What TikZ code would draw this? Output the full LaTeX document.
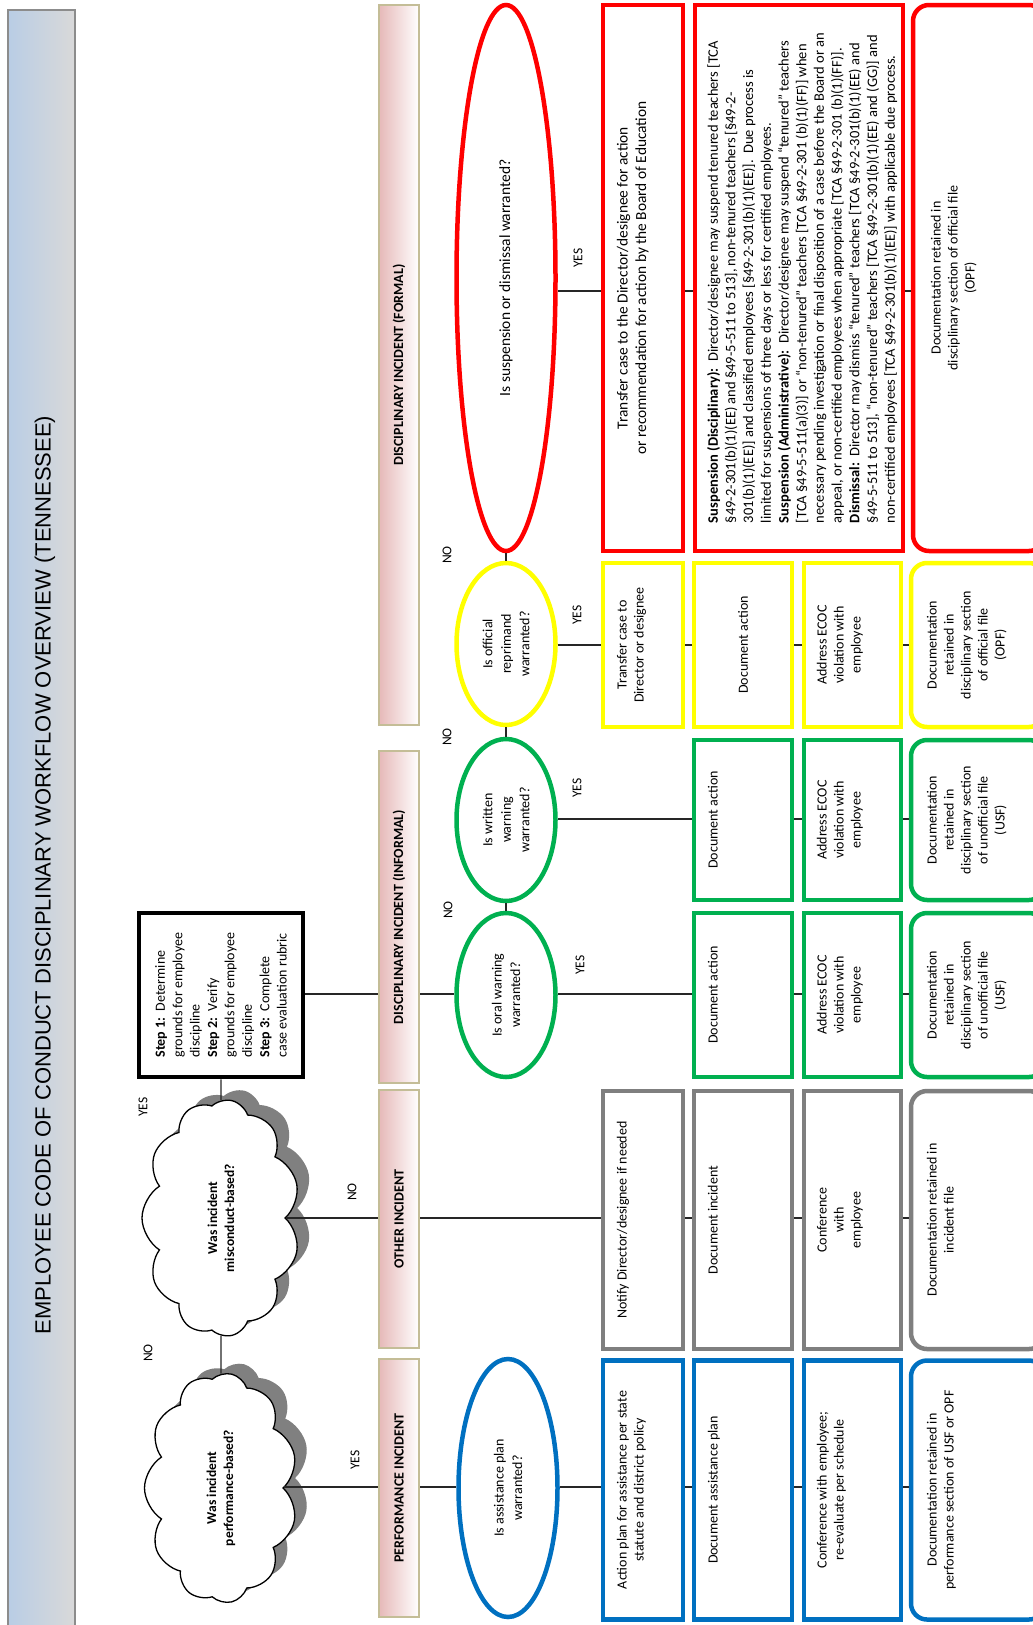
\documentclass[tikz,border=0pt]{standalone}
\usepackage{fontspec}
\setmainfont{Carlito}
\newfontfamily\titlefont{Liberation Sans}
\usetikzlibrary{shapes.geometric,shapes.symbols,shadows}

\definecolor{redline}{HTML}{FF0000}
\definecolor{yellowline}{HTML}{FFFF00}
\definecolor{greenline}{HTML}{00B050}
\definecolor{blueline}{HTML}{0070C0}
\definecolor{grayline}{HTML}{7F7F7F}
\definecolor{shadowgray}{HTML}{808080}
\definecolor{headpink}{HTML}{E6B9B8}
\definecolor{headrim}{HTML}{C4BD97}
\definecolor{barblue}{HTML}{B9CDE5}
\definecolor{bargray}{HTML}{D9D9D9}
\definecolor{barrim}{HTML}{8C8C8C}

\newcommand{\fsz}[2]{\fontsize{#1}{#2}\selectfont}
% text pinned to the top of a box (the left side once rotated)
\newcommand{\pintop}[3]{\parbox[c][#1][t]{#2}{\centering #3}}

\begin{document}
\begin{tikzpicture}[x=1pt,y=-1pt,
  link/.style={line width=1.3pt,black!85},
  header/.style={rotate=90,draw=headrim,line width=2pt,left color=headpink,right color=white,
    minimum height=40pt,inner sep=0pt,font=\fsz{14}{17}\bfseries},
  thought/.style={cloud,cloud puffs=11,cloud puff arc=115,cloud ignores aspect,rotate=90,
    draw,fill=white,line width=1.3pt,inner sep=0pt,align=center,font=\fsz{13.5}{17}\bfseries,
    drop shadow={shadow xshift=12pt,shadow yshift=10pt,fill=shadowgray,opacity=1}},
  stepbox/.style={rotate=90,draw,line width=4.5pt,minimum width=164pt,minimum height=164pt,
    inner sep=0pt,align=left,font=\fsz{14}{17.4}},
  question/.style={ellipse,rotate=90,line width=4.5pt,minimum height=99pt,inner sep=0pt,
    align=center,font=\fsz{14}{18.5}},
  actbox/.style={rectangle,rotate=90,line width=4.5pt,inner sep=0pt,font=\fsz{14}{17}},
  filebox/.style={actbox,rounded corners=16pt},
  answer/.style={rotate=90,inner sep=1pt,font=\fsz{13.5}{16}}]

  \useasboundingbox (0,0) rectangle (1033,1625);
  \clip (0,0) rectangle (1033,1625);

  % title bar
  \draw[barrim,line width=2pt,left color=barblue,right color=bargray] (8,10) rectangle (75,1640);
  \node[rotate=90,font=\titlefont\fsz{22}{26}] (title) at (45,875)
    {EMPLOYEE CODE OF CONDUCT DISCIPLINARY WORKFLOW OVERVIEW (TENNESSEE)};

  % lanes
  \node[header,minimum width=720pt] (hFormal) at (399,365) {DISCIPLINARY INCIDENT (FORMAL)};
  \node[header,minimum width=332pt] (hInformal) at (399,917) {DISCIPLINARY INCIDENT (INFORMAL)};
  \node[header,minimum width=258pt] (hOther) at (399,1219) {OTHER INCIDENT};
  \node[header,minimum width=258pt] (hPerf) at (399,1488) {PERFORMANCE INCIDENT};

  % first questions
  \node[thought,minimum width=230pt,minimum height=153pt] (cloudPerf) at (221,1488)
    {Was incident\\performance-based?};
  \node[thought,minimum width=237pt,minimum height=158pt] (cloudMisc) at (221,1218)
    {Was incident\\misconduct-based?};
  \node[stepbox] (sSteps) at (221,995)
    {\textbf{Step 1:}\ \ Determine\\grounds for employee\\discipline\\
     \textbf{Step 2:}\ \ Verify\\grounds for employee\\discipline\\
     \textbf{Step 3:}\ \ Complete\\case evaluation rubric};

  % decisions
  \node[question,draw=redline,minimum width=546pt,font=\fsz{15.5}{19}] (qSusp) at (506,278)
    {Is suspension or dismissal warranted?};
  \node[question,draw=yellowline,minimum width=162pt] (qRepr) at (506,644)
    {Is official\\reprimand\\warranted?};
  \node[question,draw=greenline,minimum width=162pt] (qWrit) at (506,820)
    {Is written\\warning\\warranted?};
  \node[question,draw=greenline,minimum width=164pt] (qOral) at (506,995)
    {Is oral warning\\warranted?};
  \node[question,draw=blueline,minimum width=258pt] (qAssist) at (508,1488)
    {Is assistance plan\\warranted?};

  % formal: suspension or dismissal
  \node[actbox,draw=redline,minimum width=546pt,minimum height=80pt,font=\fsz{15.4}{18.5}] (aSusp) at (643,278)
    {\pintop{52pt}{530pt}{Transfer case to the Director/designee for action\\or recommendation for action by the Board of Education}};
  \node[actbox,draw=redline,minimum width=546pt,minimum height=208pt,font=\fsz{14.5}{17.7}] (bSusp) at (799,278)
    {\parbox[c][184pt][t]{490pt}{\raggedright
      \textbf{Suspension (Disciplinary):}\ \ Director/designee may suspend tenured teachers [TCA\\{}%
      §49-2-301(b)(1)(EE) and §49-5-511 to 513], non-tenured teachers [§49-2-\\{}%
      301(b)(1)(EE)] and classified employees [§49-2-301(b)(1)(EE)].\ \ Due process is\\{}%
      limited for suspensions of three days or less for certified employees.\\{}%
      \textbf{Suspension (Administrative):}\ \ Director/designee may suspend “tenured” teachers\\{}%
      [TCA §49-5-511(a)(3)] or “non-tenured” teachers [TCA §49-2-301 (b)(1)(FF)] when\\{}%
      necessary pending investigation or final disposition of a case before the Board or an\\{}%
      appeal, or non-certified employees when appropriate [TCA §49-2-301 (b)(1)(FF)].\\{}%
      \textbf{Dismissal:}\ \ Director may dismiss “tenured” teachers [TCA §49-2-301(b)(1)(EE) and\\{}%
      §49-5-511 to 513], “non-tenured” teachers [TCA §49-2-301(b)(1)(EE) and (GG)] and\\{}%
      non-certified employees [TCA §49-2-301(b)(1)(EE)] with applicable due process.}};
  \node[filebox,draw=redline,minimum width=546pt,minimum height=132pt] (dSusp) at (979,278)
    {\pintop{96pt}{520pt}{Documentation retained in\\disciplinary section of official file\\(OPF)}};

  % formal: official reprimand
  \node[actbox,draw=yellowline,minimum width=164pt,minimum height=80pt] (aRepr) at (643,645)
    {\pintop{52pt}{150pt}{Transfer case to\\Director or designee}};
  \node[actbox,draw=yellowline,minimum width=164pt,minimum height=98pt] (bRepr) at (743,645)
    {Document action};
  \node[actbox,draw=yellowline,minimum width=164pt,minimum height=97pt] (cRepr) at (852.5,645)
    {\pintop{71pt}{150pt}{Address ECOC\\violation with\\employee}};
  \node[filebox,draw=yellowline,minimum width=164pt,minimum height=134pt] (dRepr) at (978,645)
    {\pintop{102pt}{150pt}{Documentation\\retained in\\disciplinary section\\of official file\\(OPF)}};

  % informal: written warning
  \node[actbox,draw=greenline,minimum width=160pt,minimum height=98pt] (bWrit) at (743,820)
    {\pintop{70pt}{146pt}{Document action}};
  \node[actbox,draw=greenline,minimum width=160pt,minimum height=97pt] (cWrit) at (852.5,820)
    {\pintop{71pt}{146pt}{Address ECOC\\violation with\\employee}};
  \node[filebox,draw=greenline,minimum width=160pt,minimum height=134pt] (dWrit) at (978,820)
    {\pintop{102pt}{146pt}{Documentation\\retained in\\disciplinary section\\of unofficial file\\(USF)}};

  % informal: oral warning
  \node[actbox,draw=greenline,minimum width=164pt,minimum height=98pt] (bOral) at (743,995)
    {\pintop{70pt}{150pt}{Document action}};
  \node[actbox,draw=greenline,minimum width=164pt,minimum height=97pt] (cOral) at (852.5,995)
    {\pintop{71pt}{150pt}{Address ECOC\\violation with\\employee}};
  \node[filebox,draw=greenline,minimum width=164pt,minimum height=134pt] (dOral) at (978,995)
    {\pintop{102pt}{150pt}{Documentation\\retained in\\disciplinary section\\of unofficial file\\(USF)}};

  % other incident
  \node[actbox,draw=grayline,minimum width=258pt,minimum height=80pt] (aOther) at (643,1220)
    {\pintop{52pt}{240pt}{Notify Director/designee if needed}};
  \node[actbox,draw=grayline,minimum width=258pt,minimum height=98pt] (bOther) at (743,1220)
    {\pintop{70pt}{240pt}{Document incident}};
  \node[actbox,draw=grayline,minimum width=258pt,minimum height=97pt] (cOther) at (852.5,1220)
    {\pintop{71pt}{240pt}{Conference\\with\\employee}};
  \node[filebox,draw=grayline,minimum width=258pt,minimum height=134pt] (dOther) at (978,1220)
    {\pintop{102pt}{240pt}{Documentation retained in\\incident file}};

  % performance incident
  \node[actbox,draw=blueline,minimum width=259pt,minimum height=80pt] (aPerf) at (643,1490)
    {\pintop{52pt}{240pt}{Action plan for assistance per state\\statute and district policy}};
  \node[actbox,draw=blueline,minimum width=259pt,minimum height=98pt] (bPerf) at (743,1490)
    {\pintop{70pt}{240pt}{Document assistance plan}};
  \node[actbox,draw=blueline,minimum width=259pt,minimum height=97pt] (cPerf) at (852.5,1490)
    {\pintop{71pt}{240pt}{Conference with employee;\\re-evaluate per schedule}};
  \node[filebox,draw=blueline,minimum width=259pt,minimum height=134pt] (dPerf) at (978,1490)
    {\pintop{102pt}{240pt}{Documentation retained in\\performance section of USF or OPF}};

  % row heights of the connectors
  \coordinate (rowSusp) at (0,291);
  \coordinate (rowRepr) at (0,645);
  \coordinate (rowWrit) at (0,819);
  \coordinate (rowOral) at (0,994);
  \coordinate (rowOther) at (0,1218);
  \coordinate (rowPerf) at (0,1487);

  \foreach \src/\dst/\lane in {qSusp/aSusp/rowSusp,aSusp/bSusp/rowSusp,bSusp/dSusp/rowSusp,
      qRepr/aRepr/rowRepr,aRepr/bRepr/rowRepr,bRepr/cRepr/rowRepr,cRepr/dRepr/rowRepr,
      qWrit/bWrit/rowWrit,bWrit/cWrit/rowWrit,cWrit/dWrit/rowWrit,
      sSteps/hInformal/rowOral,hInformal/qOral/rowOral,qOral/bOral/rowOral,bOral/cOral/rowOral,cOral/dOral/rowOral,
      cloudMisc/hOther/rowOther,hOther/aOther/rowOther,aOther/bOther/rowOther,bOther/cOther/rowOther,cOther/dOther/rowOther,
      cloudPerf/hPerf/rowPerf,hPerf/qAssist/rowPerf,qAssist/aPerf/rowPerf,aPerf/bPerf/rowPerf,bPerf/cPerf/rowPerf,cPerf/dPerf/rowPerf}
    \draw[link] (\src.south |- \lane) -- (\dst.north |- \lane);

  \draw[link] (cloudPerf) -- (cloudMisc);
  \draw[link] (cloudMisc) -- (sSteps);
  \draw[link] (qSusp) -- (qRepr);
  \draw[link] (qRepr) -- (qWrit);
  \draw[link] (qWrit) -- (qOral);

  % answers
  \node[answer] (noPerf) at (148,1353) {NO};
  \node[answer] (yesMisc) at (143,1107) {YES};
  \node[answer] (noMisc) at (352,1192) {NO};
  \node[answer] (yesPerf) at (355,1460) {YES};
  \node[answer] (noSusp) at (447,555) {NO};
  \node[answer] (noRepr) at (447,737) {NO};
  \node[answer] (noWrit) at (448,910) {NO};
  \node[answer] (yesSusp) at (578,258) {YES};
  \node[answer] (yesRepr) at (577,615) {YES};
  \node[answer] (yesWrit) at (577,788) {YES};
  \node[answer] (yesOral) at (580,965) {YES};
\end{tikzpicture}
\end{document}
